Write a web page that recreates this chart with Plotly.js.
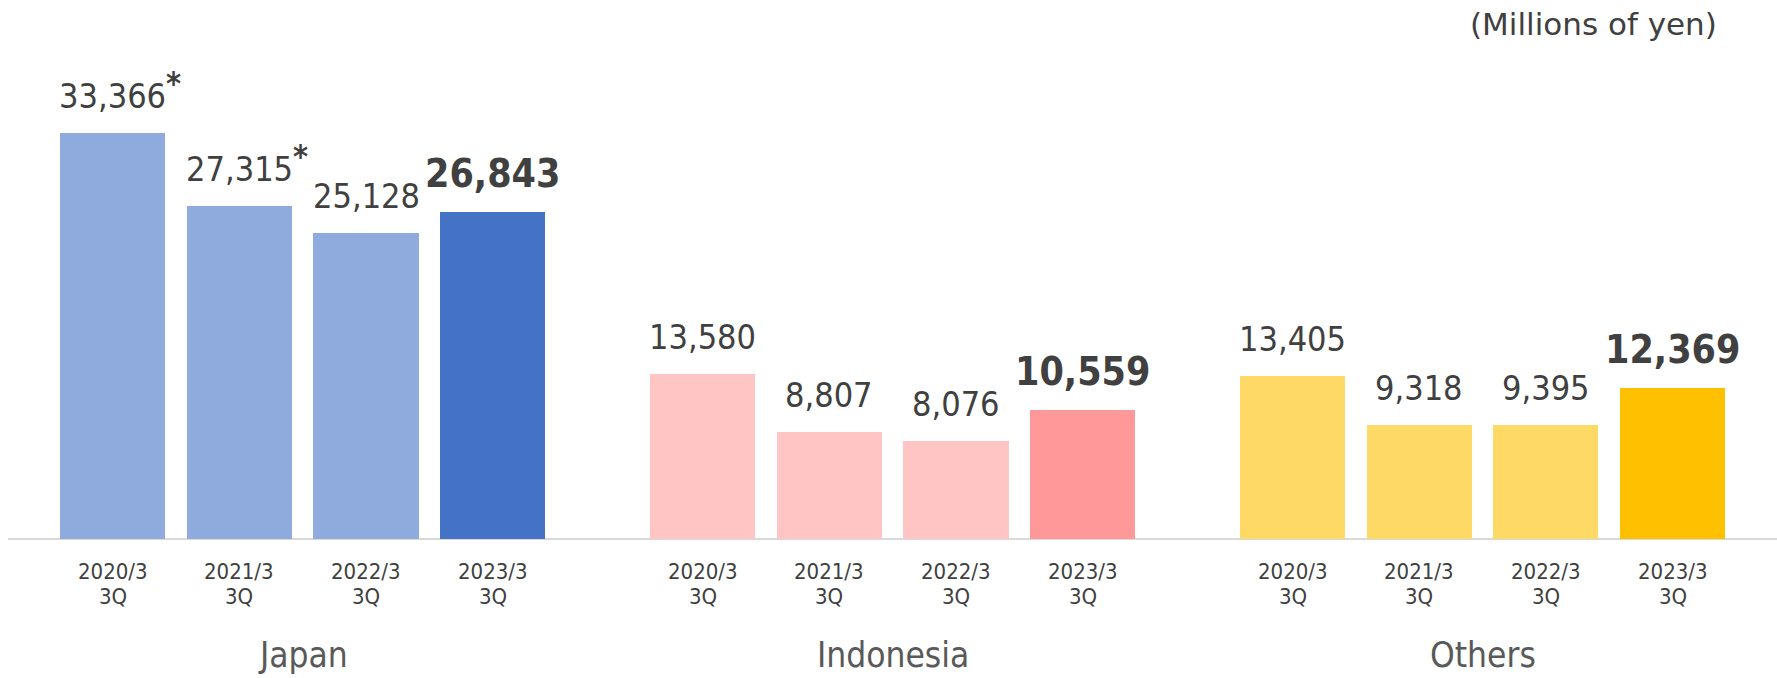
<!DOCTYPE html>
<html>
<head>
<meta charset="utf-8">
<script src="https://cdn.plot.ly/plotly-3.0.1.min.js"></script>
<style>html,body{margin:0;padding:0;background:#fff;}</style>
</head>
<body>
<div id="chart" style="width:1777px;height:678px;"></div>
<script>
// ---- data ----
var periodYears = ["2020/3", "2021/3", "2022/3", "2023/3"];
var periodQuarter = "3Q";
var regions = ["Japan", "Indonesia", "Others"];
var japan = [33366, 27315, 25128, 26843];
var indonesia = [13580, 8807, 8076, 10559];
var others = [13405, 9318, 9395, 12369];
var japanNotes = ["*", "*", "", ""];
var unitLabel = "(Millions of yen)";

// ---- styling ----
var FONT = "'DejaVu Sans Condensed', 'DejaVu Sans', Verdana, sans-serif";
var FONT_WIDE = "'DejaVu Sans', Verdana, sans-serif";
var GROUP_STEP = 4.66;
var palettes = [
  {light: "#8FAADC", dark: "#4472C4"},
  {light: "#FFC4C4", dark: "#FF9999"},
  {light: "#FFD966", dark: "#FFC000"}
];
var seriesValues = [japan, indonesia, others];
var seriesNotes = [japanNotes, ["", "", "", ""], ["", "", "", ""]];

var traces = [];
var annotations = [];

function noteHtml(note, visible) {
  var col = visible ? "#404040" : "rgba(0,0,0,0)";
  return '<sup><b><span style="font-size:32px;color:' + col + '">' + note + '</span></b></sup>';
}

seriesValues.forEach(function (vals, g) {
  var xs = vals.map(function (v, i) { return g * GROUP_STEP + i; });
  var colors = vals.map(function (v, i) { return i === vals.length - 1 ? palettes[g].dark : palettes[g].light; });
  traces.push({
    type: "bar", x: xs, y: vals, width: 0.83,
    marker: {color: colors, line: {width: 0}},
    hoverinfo: "skip", showlegend: false
  });
  xs.forEach(function (x, i) {
    var last = i === vals.length - 1;
    var label = vals[i].toLocaleString("en-US");
    var note = seriesNotes[g][i];
    var txt = last ? "<b>" + label + "</b>" : label;
    if (note) {
      txt = noteHtml(note, false) + txt + noteHtml(note, true);
    }
    annotations.push({
      x: x, y: vals[i], xref: "x", yref: "y",
      text: txt, showarrow: false, xanchor: "center", yanchor: "bottom",
      yshift: last ? 14 : 15,
      font: {family: FONT, size: last ? 39 : 34, color: "#404040"}
    });
    // category tick labels (two lines)
    annotations.push({
      x: x, xref: "x", y: 0, yref: "paper", yanchor: "middle", yshift: -32,
      showarrow: false, text: periodYears[i],
      font: {family: FONT, size: 22, color: "#404040"}
    });
    annotations.push({
      x: x, xref: "x", y: 0, yref: "paper", yanchor: "middle", yshift: -57,
      showarrow: false, text: periodQuarter,
      font: {family: FONT, size: 22, color: "#404040"}
    });
  });
  annotations.push({
    x: g * GROUP_STEP + 1.5, xref: "x", y: 0, yref: "paper",
    yanchor: "middle", yshift: -116, showarrow: false,
    text: regions[g], font: {family: FONT, size: 35, color: "#595959"}
  });
});

annotations.push({
  x: 1, xref: "paper", xanchor: "right", xshift: -58,
  y: 1, yref: "paper", yanchor: "middle", yshift: 36,
  showarrow: false, text: unitLabel,
  font: {family: FONT_WIDE, size: 31, color: "#404040"}
});

var layout = {
  width: 1777, height: 678,
  margin: {l: 8, r: 0, t: 60, b: 139},
  paper_bgcolor: "#ffffff", plot_bgcolor: "#ffffff",
  font: {family: FONT, color: "#404040"},
  xaxis: {
    range: [-0.828, 13.145], showticklabels: false,
    showgrid: false, zeroline: false, showline: false, ticks: "",
    fixedrange: true
  },
  yaxis: {
    range: [0, 39317], showgrid: false, zeroline: true,
    zerolinecolor: "#D9D9D9", zerolinewidth: 2,
    showticklabels: false, ticks: "", showline: false, fixedrange: true
  },
  bargap: 0,
  annotations: annotations
};

Plotly.newPlot("chart", traces, layout, {displayModeBar: false, staticPlot: true});
</script>
</body>
</html>
